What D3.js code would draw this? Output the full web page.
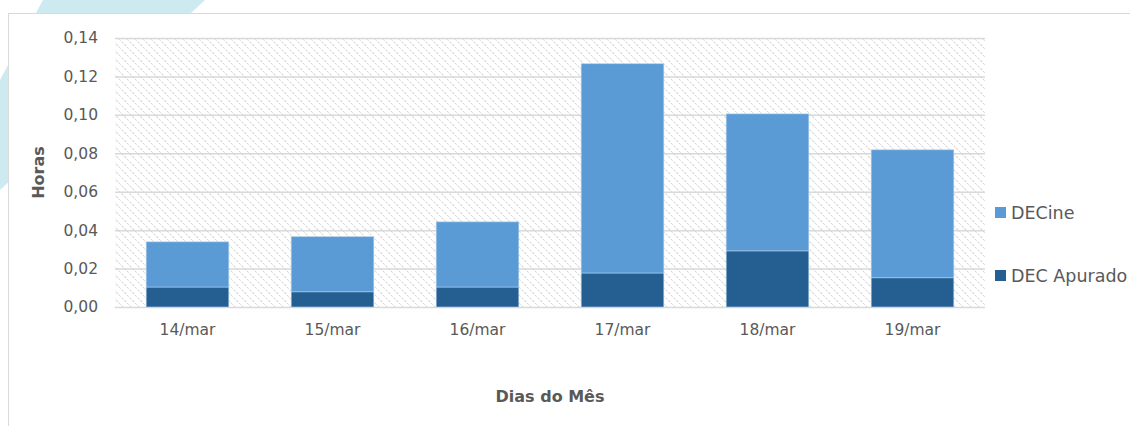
<!DOCTYPE html>
<html>
<head>
<meta charset="utf-8">
<script src="https://cdn.jsdelivr.net/npm/d3@7"></script>
<style>
  body { margin: 0; background: #fff; }
  svg text { font-family: "DejaVu Sans", sans-serif; fill: #595959; }
</style>
</head>
<body>
<svg id="chart"></svg>
<script>
var width = 1130, height = 426

var days = ["14/mar", "15/mar", "16/mar", "17/mar", "18/mar", "19/mar"]
var decApurado = [0.0104, 0.0079, 0.0104, 0.0177, 0.0292, 0.0152]
var decIne = [0.0235, 0.0287, 0.0339, 0.1089, 0.0713, 0.0666]
var yTicks = [0, 0.02, 0.04, 0.06, 0.08, 0.10, 0.12, 0.14]
var seriesNames = ["DEC Apurado", "DECine"]
var colours = { "DEC Apurado": "#255e91", "DECine": "#5b9bd5" }

var svg = d3.select("#chart")
    .attr("width", width)
    .attr("height", height)

// decoration behind the chart box
svg.append("path")
    .attr("d", "M43,0 L205,0 L0,190 L0,80 Z")
    .attr("fill", "#cdeaf1")

svg.append("rect")
    .attr("x", 8.5).attr("y", 13.5)
    .attr("width", width).attr("height", height)
    .attr("fill", "#fff")
    .attr("stroke", "#d9d9d9")

var defs = svg.append("defs")
var pat = defs.append("pattern")
    .attr("id", "hatch")
    .attr("patternUnits", "userSpaceOnUse")
    .attr("width", 8).attr("height", 8)
pat.append("rect").attr("width", 8).attr("height", 8).attr("fill", "#fff")
pat.append("path")
    .attr("d", "M-1,-1 L9,9 M-5,3 L1,9 M3,-5 L13,5")
    .attr("stroke", "#dddddd")
    .attr("stroke-width", 1.3)
    .attr("stroke-dasharray", "2.5,1.2")

var margin = { left: 115, right: 145, top: 38, bottom: 119 }
var x = d3.scaleBand()
    .domain(days)
    .range([margin.left, width - margin.right])
    .paddingInner(0.43)
    .paddingOuter(0.215)
var y = d3.scaleLinear()
    .domain([0, 0.14])
    .range([height - margin.bottom, margin.top])

svg.append("rect")
    .attr("x", margin.left)
    .attr("y", margin.top)
    .attr("width", width - margin.right - margin.left)
    .attr("height", y(0) - margin.top)
    .attr("fill", "url(#hatch)")

// gridlines
svg.append("g")
    .attr("transform", "translate(" + margin.left + ",0)")
    .call(d3.axisLeft(y).tickValues(yTicks).tickSize(-(width - margin.right - margin.left)).tickFormat(""))
    .call(g => g.select(".domain").remove())
    .selectAll("line")
    .attr("stroke", "#d9d9d9")
    .attr("stroke-width", 1.5)

// y labels
svg.append("g")
    .attr("transform", "translate(" + margin.left + ",0)")
    .call(d3.axisLeft(y).tickValues(yTicks).tickSize(0).tickPadding(17)
        .tickFormat(d => d3.format(".2f")(d).replace(".", ",")))
    .call(g => g.select(".domain").remove())
    .selectAll("text")
    .attr("font-size", 15.5)
    .style("font-family", "DejaVu Sans")
    .attr("fill", "#595959")

// x labels
svg.append("g")
    .attr("transform", "translate(0," + y(0) + ")")
    .call(d3.axisBottom(x).tickSize(0).tickPadding(17))
    .call(g => g.select(".domain").remove())
    .selectAll("text")
    .attr("font-size", 15.5)
    .style("font-family", "DejaVu Sans")
    .attr("fill", "#595959")

var table = days.map((d, i) => ({ day: d, "DEC Apurado": decApurado[i], "DECine": decIne[i] }))
var stack = d3.stack().keys(seriesNames)(table)

svg.append("g").selectAll("g")
    .data(stack)
    .enter()
    .append("g")
        .attr("fill", d => colours[d.key])
    .selectAll("rect")
    .data(d => d)
    .enter()
    .append("rect")
        .attr("x", d => x(d.data.day))
        .attr("width", x.bandwidth())
        .attr("y", d => y(d[1]))
        .attr("height", d => y(d[0]) - y(d[1]))
        .attr("stroke", "#b4d0ea")
        .attr("stroke-width", 0.6)

// axis titles
svg.append("text")
    .attr("transform", "translate(44," + (y(0) + margin.top) / 2 + ") rotate(-90)")
    .attr("text-anchor", "middle")
    .attr("font-size", 16)
    .attr("font-weight", "bold")
    .text("Horas")

svg.append("text")
    .attr("x", (margin.left + width - margin.right) / 2)
    .attr("y", 402)
    .attr("text-anchor", "middle")
    .attr("font-size", 16)
    .attr("font-weight", "bold")
    .text("Dias do Mês")

// legend
var legend = svg.append("g").selectAll("g")
    .data(["DECine", "DEC Apurado"])
    .enter()
    .append("g")
        .attr("transform", (d, i) => "translate(995," + (207 + i * 63) + ")")
legend.append("rect")
    .attr("width", 11).attr("height", 11)
    .attr("fill", d => colours[d])
legend.append("text")
    .attr("x", 16).attr("y", 12)
    .attr("font-size", 17.5)
    .text(d => d)
</script>
</body>
</html>
